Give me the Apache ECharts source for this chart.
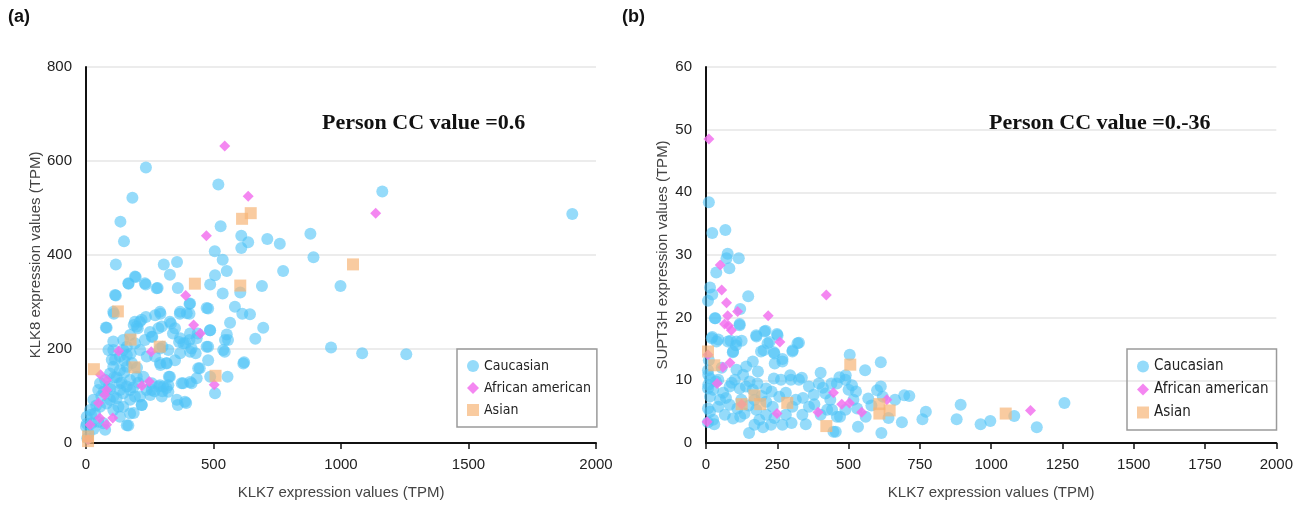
<!DOCTYPE html>
<html>
<head>
<meta charset="utf-8">
<script src="https://cdn.jsdelivr.net/npm/echarts@6/dist/echarts.min.js"></script>
<style>
  html, body { margin: 0; padding: 0; background: #fff; overflow: hidden; }
  #chart { width: 1296px; height: 505px; }
</style>
</head>
<body>
<div id="chart"></div>
<script>
// panel (a): KLK7 vs KLK8
const aCaucasian = [
  [235,586],[182,522],[135,471],[149,429],[117,380],[117,314],[109,275],[81,245],[195,353],[167,339],
  [234,337],[281,330],[305,380],[357,385],[329,358],[360,330],[519,550],[528,461],[505,408],[536,390],
  [552,366],[506,357],[487,337],[536,318],[609,441],[609,415],[636,427],[711,434],[760,424],[773,366],
  [690,334],[605,320],[584,290],[613,275],[643,274],[565,256],[695,245],[664,222],[552,231],[557,219],
  [544,194],[617,169],[620,172],[880,445],[892,395],[998,334],[961,203],[1083,191],[1256,189],[1162,535],
  [1907,487],[479,286],[406,296],[368,275],[406,275],[438,233],[430,191],[479,205],[479,176],[487,240],
  [446,159],[487,141],[414,127],[381,127],[360,81],[393,85],[341,233],[333,254],[292,275],[284,244],
  [260,226],[235,268],[211,258],[203,244],[187,251],[300,205],[316,169],[325,141],[292,166],[284,120],
  [300,110],[252,102],[219,81],[187,64],[166,37],[268,110],[316,117],[390,212],[365,215],[414,201],
  [349,176],[406,219],[192,354],[166,340],[231,340],[277,329],[114,315],[107,279],[78,246],[290,279],
  [271,272],[369,279],[395,276],[408,297],[473,287],[192,258],[218,262],[251,236],[297,248],[329,258],
  [349,244],[369,223],[382,212],[408,233],[434,223],[486,240],[473,205],[538,198],[545,219],[408,194],
  [369,191],[323,198],[290,201],[107,216],[88,198],[146,219],[173,230],[199,248],[231,219],[258,226],
  [212,198],[238,184],[271,184],[290,170],[316,170],[440,159],[434,138],[408,130],[375,127],[356,92],
  [388,88],[303,120],[323,109],[297,99],[258,113],[218,81],[160,38],[506,106],[555,141],
  [3,56],[3,41],[16,70],[29,92],[48,113],[55,127],[75,134],[94,148],[107,162],[114,177],
  [133,184],[160,187],[160,162],[133,155],[133,127],[133,113],[146,106],[173,113],[173,92],[192,99],
  [107,99],[81,84],[55,77],[35,63],[48,45],[68,42],[75,28],[22,42],[0,35],[146,77],
  [127,77],[107,70],[173,134],[199,141],[225,141],[212,99],[238,113],[258,127],[290,123],[329,141],
  [323,123],[173,63],[133,56],[94,92],[107,198],[146,198],[160,205],[192,212],[101,177],[120,140],
  [150,150],[180,170],[200,160],[90,120],[60,100],[40,80],[20,60],[10,20],[5,10],[30,30],
  [120,95],[140,128],[160,120],[185,118],[205,128],[110,140],[95,115],[70,110],[150,175],[175,190]
];
const aAfrican = [
  [544,632],[636,525],[1136,489],[472,441],[391,314],[422,251],[448,233],[128,196],[256,194],[248,131],
  [219,122],[503,124],[57,145],[81,134],[81,113],[49,85],[73,102],[54,53],[105,53],[81,39],
  [16,39],[8,7]
];
const aAsian = [
  [612,477],[646,489],[1047,380],[427,339],[605,335],[125,280],[175,220],[289,205],[190,161],[31,157],
  [508,143],[8,14],[8,4]
];

// panel (b): KLK7 vs SUPT3H
const bCaucasian = [
  [10,38.4],[22,33.5],[68,34.0],[76,30.2],[72,29.5],[115,29.5],[82,27.9],[36,27.2],[14,24.8],[22,23.7],
  [7,22.7],[148,23.4],[120,21.4],[33,19.9],[118,19.0],[22,16.9],[43,16.5],[86,16.3],[125,16.3],[94,14.5],
  [105,15.6],[177,17.0],[209,17.9],[249,17.4],[223,16.1],[202,14.8],[238,14.5],[268,13.4],[304,14.8],[326,16.0],
  [241,12.7],[504,14.1],[613,12.9],[558,11.6],[402,11.2],[336,10.4],[295,10.8],[238,10.3],[468,10.5],[490,10.8],
  [440,9.5],[512,9.2],[613,9.0],[620,7.4],[526,8.2],[569,7.1],[663,6.9],[695,7.6],[713,7.5],[771,5.0],
  [759,3.8],[687,3.3],[893,6.1],[879,3.8],[963,3.0],[997,3.5],[1081,4.3],[1160,2.5],[1257,6.4],[615,1.6],
  [533,2.6],[447,1.8],[455,1.8],[151,1.6],[29,3.0],[7,3.3],[7,5.5],[14,10.3],[7,8.7],[7,11.6],
  [10,13.2],[31,19.9],[118,18.8],[20,16.7],[37,16.2],[77,16.2],[107,16.2],[95,14.6],[176,17.2],[205,17.8],
  [251,17.2],[321,15.9],[216,15.9],[193,14.6],[240,14.3],[303,14.6],[268,13.0],[164,13.0],[141,12.2],[182,11.4],
  [130,10.9],[107,11.7],[101,10.1],[153,9.8],[83,9.0],[118,8.7],[164,8.5],[211,8.7],[263,10.1],[298,10.1],
  [326,10.1],[361,9.0],[396,9.5],[378,7.7],[419,7.9],[436,6.9],[459,9.5],[489,10.1],[500,8.5],[517,6.9],
  [489,5.3],[459,4.2],[442,5.3],[361,5.8],[338,4.5],[303,5.8],[280,4.5],[268,2.9],[228,2.9],[211,4.5],
  [187,3.7],[170,2.9],[95,3.9],[66,4.5],[25,3.7],[14,5.0],[43,5.8],[83,6.1],[49,6.9],[14,7.4],
  [25,8.5],[8,9.3],[43,10.1],[8,10.9],[124,6.9],[170,6.9],[211,6.6],[257,7.4],[315,6.9],[234,5.8],
  [176,5.3],[135,4.7],[402,4.5],[425,5.3],[60,8.0],[70,7.2],[90,9.6],[140,9.0],[180,9.5],[195,7.5],
  [230,8.2],[280,8.0],[340,7.2],[380,6.2],[410,8.8],[150,6.0],[110,5.5],[55,12.0],[35,9.8],[240,4.0],
  [530,5.5],[560,4.2],[600,8.4],[640,4.0],[580,6.0],[470,4.2],[350,3.0],[300,3.2],[200,2.5],[120,4.2]
];
const bAfrican = [
  [10,48.5],[50,28.4],[55,24.4],[72,22.4],[76,20.3],[111,21.0],[65,19.0],[79,18.7],[89,18.0],[218,20.3],
  [422,23.6],[259,16.1],[84,12.8],[59,12.1],[7,14.1],[39,9.5],[4,3.4],[125,6.2],[249,4.7],[393,4.9],
  [447,8.0],[476,6.2],[503,6.4],[546,4.9],[634,6.9],[1138,5.2]
];
const bAsian = [
  [7,14.6],[29,12.4],[506,12.5],[170,7.6],[190,6.2],[125,6.2],[285,6.4],[608,6.2],[608,4.7],[644,5.2],
  [422,2.7],[1051,4.7]
];

const names = ['Caucasian', 'African american', 'Asian'];
const colors = ['#4fc3f7', '#f272ee', '#f7b577'];
const symbols = ['circle', 'diamond', 'rect'];
const sizes = [12, 11, 12];
const opacities = [0.6, 0.85, 0.7];

const tickFont = { fontFamily: 'Liberation Sans Narrow, Liberation Sans, Arial', fontSize: 15, color: '#222' };
const nameFont = { fontFamily: 'Liberation Sans, Arial', fontSize: 15, color: '#444' };

function xAxis(idx, interval) {
  return {
    gridIndex: idx, type: 'value', min: 0, max: 2000, interval,
    name: 'KLK7 expression values (TPM)', nameLocation: 'middle', nameGap: 42,
    nameTextStyle: nameFont,
    axisLine: { lineStyle: { color: '#111', width: 2 } },
    axisTick: { show: true, inside: false, length: 6, lineStyle: { color: '#111', width: 1.5 } },
    axisLabel: { ...tickFont, margin: 14, formatter: v => String(v) },
    splitLine: { show: false }
  };
}
function yAxis(idx, max, interval, name, gap) {
  return {
    gridIndex: idx, type: 'value', min: 0, max, interval,
    name, nameLocation: 'middle', nameGap: gap, nameTextStyle: nameFont,
    axisLine: { show: true, lineStyle: { color: '#111', width: 2 } },
    axisTick: { show: false },
    axisLabel: { ...tickFont, margin: 14, formatter: v => String(v) },
    splitLine: { lineStyle: { color: '#e6e6e6', width: 1.5 } }
  };
}
function series(idx, datas) {
  return datas.map((d, i) => ({
    name: names[i], type: 'scatter', xAxisIndex: idx, yAxisIndex: idx,
    data: d, symbol: symbols[i], symbolSize: sizes[i],
    itemStyle: { color: colors[i], opacity: opacities[i] },
    emphasis: { disabled: true }
  }));
}
function legend(left, fontSize, padRight) {
  return {
    orient: 'vertical', left, top: 349,
    padding: [10, padRight, 10, 10], itemGap: 8, itemWidth: 12, itemHeight: 12,
    borderColor: '#9a9a9a', borderWidth: 1.5,
    textStyle: { fontFamily: 'DejaVu Sans Condensed, Liberation Sans', fontSize, color: '#222' },
    data: names.map((n, i) => ({ name: n, icon: symbols[i] })),
    selectedMode: false
  };
}

const chart = echarts.init(document.getElementById('chart'));
chart.setOption({
  animation: false,
  grid: [
    { left: 86, width: 510, top: 67, bottom: 62 },
    { left: 706, width: 576, top: 67, bottom: 62 }
  ],
  xAxis: [xAxis(0, 500), xAxis(1, 250)],
  yAxis: [
    yAxis(0, 800, 200, 'KLK8 expression values (TPM)', 36),
    yAxis(1, 60, 10, 'SUPT3H expression values (TPM)', 36)
  ],
  legend: [legend(457, 14, 6), legend(1127, 15, 8)],
  series: [...series(0, [aCaucasian, aAfrican, aAsian]), ...series(1, [bCaucasian, bAfrican, bAsian])],
  graphic: [
    { type: 'text', left: 8, top: 8, style: { text: '(a)', font: 'bold 18px Liberation Sans, Arial', fill: '#111' } },
    { type: 'text', left: 622, top: 8, style: { text: '(b)', font: 'bold 18px Liberation Sans, Arial', fill: '#111' } },
    { type: 'text', left: 322, top: 112, style: { text: 'Person CC value =0.6', font: 'bold 22px Liberation Serif, Times New Roman', fill: '#111' } },
    { type: 'text', left: 989, top: 112, style: { text: 'Person CC value =0.-36', font: 'bold 22px Liberation Serif, Times New Roman', fill: '#111' } }
  ]
});
</script>
</body>
</html>
